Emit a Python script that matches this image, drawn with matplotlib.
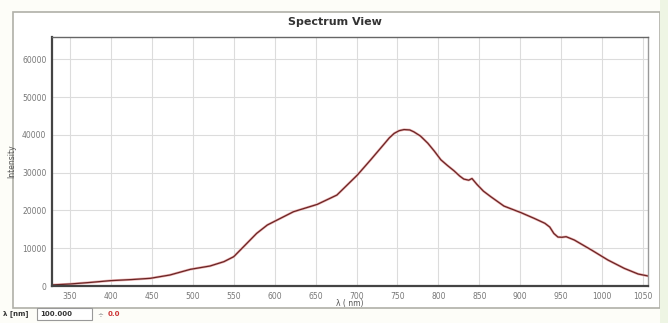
import matplotlib.pyplot as plt
from matplotlib.patches import Rectangle

# spectrum
wavelength = [326, 350, 375, 399, 425, 448, 472, 497, 521, 538, 550, 562, 578, 591,
              603, 623, 652, 676, 701, 717, 733, 740, 746, 752, 758, 765, 770, 778, 787, 795,
              803, 811, 819, 826, 831, 837, 841, 847, 855, 864, 880, 901, 917, 930, 936,
              941, 946, 951, 956, 966, 987, 1007, 1027, 1044, 1056]
intensity = [260, 530, 950, 1410, 1700, 2030, 2910, 4410, 5290, 6440, 7760, 10400, 13930, 16140,
             17460, 19660, 21600, 24070, 29370, 33330, 37400, 39200, 40400, 41100, 41400, 41300, 40800,
             39700, 37800, 35700, 33400, 31900, 30500, 29100, 28300, 28000, 28450, 26900, 25100,
             23630, 21160, 19400, 17900, 16600, 15600, 13900, 12950, 12900, 13050, 12170, 9520,
             6880, 4670, 3170, 2650]
x_ticks = list(range(350, 1051, 50))
y_ticks = list(range(0, 60001, 10000))

fig = plt.figure(figsize=(6.68, 3.23), dpi=100)
fig.patch.set_facecolor('#fdfdf8')

# outer panel frame
fig.patches.append(Rectangle((13 / 668, 1 - 308 / 323), 647 / 668, 296 / 323,
                             transform=fig.transFigure, fill=True, facecolor='white',
                             edgecolor='#b0b0a8', linewidth=1.2, zorder=-2))
fig.patches.append(Rectangle((660 / 668, 0), 8 / 668, 1, transform=fig.transFigure,
                             facecolor='#eef5e4', edgecolor='none', zorder=-2))

ax = fig.add_axes([52 / 668, 1 - 286 / 323, 596 / 668, 249 / 323])
ax.set_zorder(1)
ax.plot(wavelength, intensity, color='#eab0b0', lw=1.8, solid_capstyle='round')
ax.plot(wavelength, intensity, color='#6a2424', lw=0.9)

ax.set_xlim(328, 1056)
ax.set_ylim(0, 65900)
ax.set_xticks(x_ticks)
ax.set_yticks(y_ticks)
ax.tick_params(labelsize=5.5, colors='#777777', length=0, pad=4)
ax.grid(True, color='#dcdcdc', lw=0.8)
for side in ['left', 'bottom']:
    ax.spines[side].set_color('#444444')
    ax.spines[side].set_linewidth(1.6)
ax.spines['top'].set_color('#666666')
ax.spines['top'].set_linewidth(1.0)
ax.spines['right'].set_color('#999999')
ax.spines['right'].set_linewidth(1.0)

ax.set_xlabel('λ ( nm)', fontsize=5.5, color='#555555', labelpad=-1)
ax.set_ylabel('Intensity', fontsize=5.5, color='#555555', labelpad=4)

fig.text(335 / 668, 1 - 22 / 323, 'Spectrum View', ha='center', va='center',
         fontsize=8, fontweight='bold', color='#333333')

# bottom control strip
fig.text(3 / 668, 1 - 314 / 323, 'λ [nm]', fontsize=5, va='center', color='#333333',
         fontweight='bold')
fig.patches.append(Rectangle((37 / 668, 1 - 320 / 323), 55 / 668, 12 / 323,
                             transform=fig.transFigure, facecolor='white',
                             edgecolor='#999999', linewidth=0.8))
fig.text(40 / 668, 1 - 314 / 323, '100.000', fontsize=5, va='center', color='#333333',
         fontweight='bold')
fig.text(97 / 668, 1 - 314 / 323, '÷', fontsize=5, va='center', color='#888888')
fig.text(108 / 668, 1 - 314 / 323, '0.0', fontsize=5, va='center', color='#cc3333',
         fontweight='bold')

plt.savefig('out.png', dpi=100)
